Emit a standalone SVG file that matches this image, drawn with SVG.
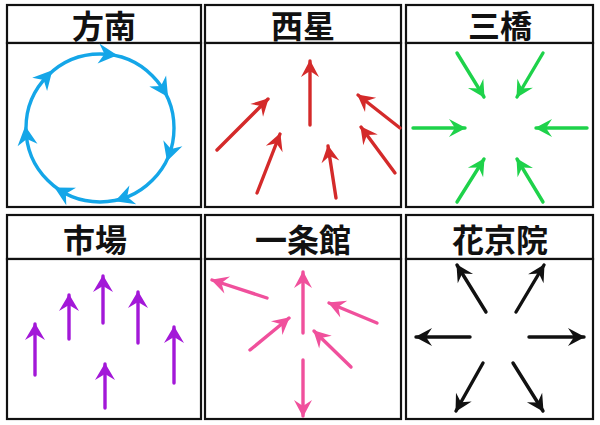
<svg xmlns="http://www.w3.org/2000/svg" width="600" height="425" viewBox="0 0 600 425">
<style>
.box{fill:#fff;stroke:#111;stroke-width:2.2}
.t{font-family:"Noto Sans CJK JP","Noto Sans CJK SC",sans-serif;font-weight:bold;font-size:32px;text-anchor:middle;fill:#111}
.a{stroke-width:3.4;stroke-linecap:round;fill:none}
</style>
<defs>
<marker id="mr" markerUnits="userSpaceOnUse" markerWidth="22" markerHeight="22" viewBox="-18 -11 22 22" refX="0" refY="0" orient="auto"><path d="M1,0 L-16,-9 L-10,0 L-16,9 z" fill="#d42a2a"/></marker>
<marker id="mg" markerUnits="userSpaceOnUse" markerWidth="22" markerHeight="22" viewBox="-18 -11 22 22" refX="0" refY="0" orient="auto"><path d="M1,0 L-16,-9 L-10,0 L-16,9 z" fill="#1ed24a"/></marker>
<marker id="mp" markerUnits="userSpaceOnUse" markerWidth="22" markerHeight="22" viewBox="-18 -11 22 22" refX="0" refY="0" orient="auto"><path d="M1,0 L-16,-10 L-10,0 L-16,10 z" fill="#a318d8"/></marker>
<marker id="mk" markerUnits="userSpaceOnUse" markerWidth="22" markerHeight="22" viewBox="-18 -11 22 22" refX="0" refY="0" orient="auto"><path d="M1,0 L-16,-9 L-10,0 L-16,9 z" fill="#111"/></marker>
<marker id="mn" markerUnits="userSpaceOnUse" markerWidth="22" markerHeight="22" viewBox="-18 -11 22 22" refX="0" refY="0" orient="auto"><path d="M1,0 L-16,-9 L-10,0 L-16,9 z" fill="#f0509c"/></marker>
<path id="bh" d="M74,11 L64,-8 L74,-2 L84,-8 z" fill="#14a6e8"/>
</defs>
<rect width="600" height="425" fill="#fff"/>
<g id="p1">
<rect class="box" x="7" y="5" width="194" height="38"/><rect class="box" x="7" y="43" width="194" height="164"/>
<text class="t" x="104" y="38">方南</text>
<circle cx="100" cy="128" r="74" fill="none" stroke="#14a6e8" stroke-width="3.4"/>
<g transform="translate(100,128)">
<use href="#bh" transform="rotate(-85)"/><use href="#bh" transform="rotate(-33)"/><use href="#bh" transform="rotate(18)"/><use href="#bh" transform="rotate(70)"/><use href="#bh" transform="rotate(119)"/><use href="#bh" transform="rotate(173)"/><use href="#bh" transform="rotate(222)"/>
</g>
</g>
<g id="p2">
<rect class="box" x="205" y="5" width="196" height="38"/><rect class="box" x="205" y="43" width="196" height="164"/>
<text class="t" x="303" y="38">西星</text>
</g>
<g id="p3">
<rect class="box" x="406" y="5" width="187" height="38"/><rect class="box" x="406" y="43" width="187" height="164"/>
<text class="t" x="500" y="38">三橋</text>
</g>
<g id="p4">
<rect class="box" x="7" y="215" width="194" height="44"/><rect class="box" x="7" y="259" width="194" height="160"/>
<text class="t" x="95" y="252">市場</text>
</g>
<g id="p5">
<rect class="box" x="205" y="215" width="196" height="44"/><rect class="box" x="205" y="259" width="196" height="160"/>
<text class="t" x="303" y="252">一条館</text>
</g>
<g id="p6">
<rect class="box" x="406" y="215" width="187" height="44"/><rect class="box" x="406" y="259" width="187" height="160"/>
<text class="t" x="500" y="252">花京院</text>
</g>
<g id="connectors">
<g stroke="#d42a2a" marker-end="url(#mr)">
<path class="a" d="M217,150 L268,99"/><path class="a" d="M257,193 L280,134"/><path class="a" d="M310,125 L310,61"/><path class="a" d="M336,198 L328,146"/><path class="a" d="M400,128 L358,95"/><path class="a" d="M395,173 L361,127"/>
</g>
<g stroke="#1ed24a" marker-end="url(#mg)">
<path class="a" d="M457,53 L484,97"/><path class="a" d="M543,53 L517,97"/><path class="a" d="M413,128 L465,128"/><path class="a" d="M587,128 L536,128"/><path class="a" d="M457,202 L484,159"/><path class="a" d="M543,202 L517,159"/>
</g>
<g stroke="#a318d8" marker-end="url(#mp)">
<path class="a" d="M35,375 L35,324"/><path class="a" d="M69,339 L69,295"/><path class="a" d="M103,323 L103,276"/><path class="a" d="M138,343 L138,292"/><path class="a" d="M174,383 L174,327"/><path class="a" d="M105,408 L105,364"/>
</g>
<g stroke="#f0509c" marker-end="url(#mn)">
<path class="a" d="M267,298 L212,280"/><path class="a" d="M250,350 L289,318"/><path class="a" d="M303,333 L303,272"/><path class="a" d="M303,360 L303,416"/><path class="a" d="M377,323 L329,303"/><path class="a" d="M351,367 L314,331"/>
</g>
<g stroke="#111" marker-end="url(#mk)">
<path class="a" d="M486,312 L457,265"/><path class="a" d="M516,312 L544,265"/><path class="a" d="M470,337 L416,337"/><path class="a" d="M529,337 L584,337"/><path class="a" d="M483,363 L456,411"/><path class="a" d="M513,363 L543,411"/>
</g>
</g>
</svg>
